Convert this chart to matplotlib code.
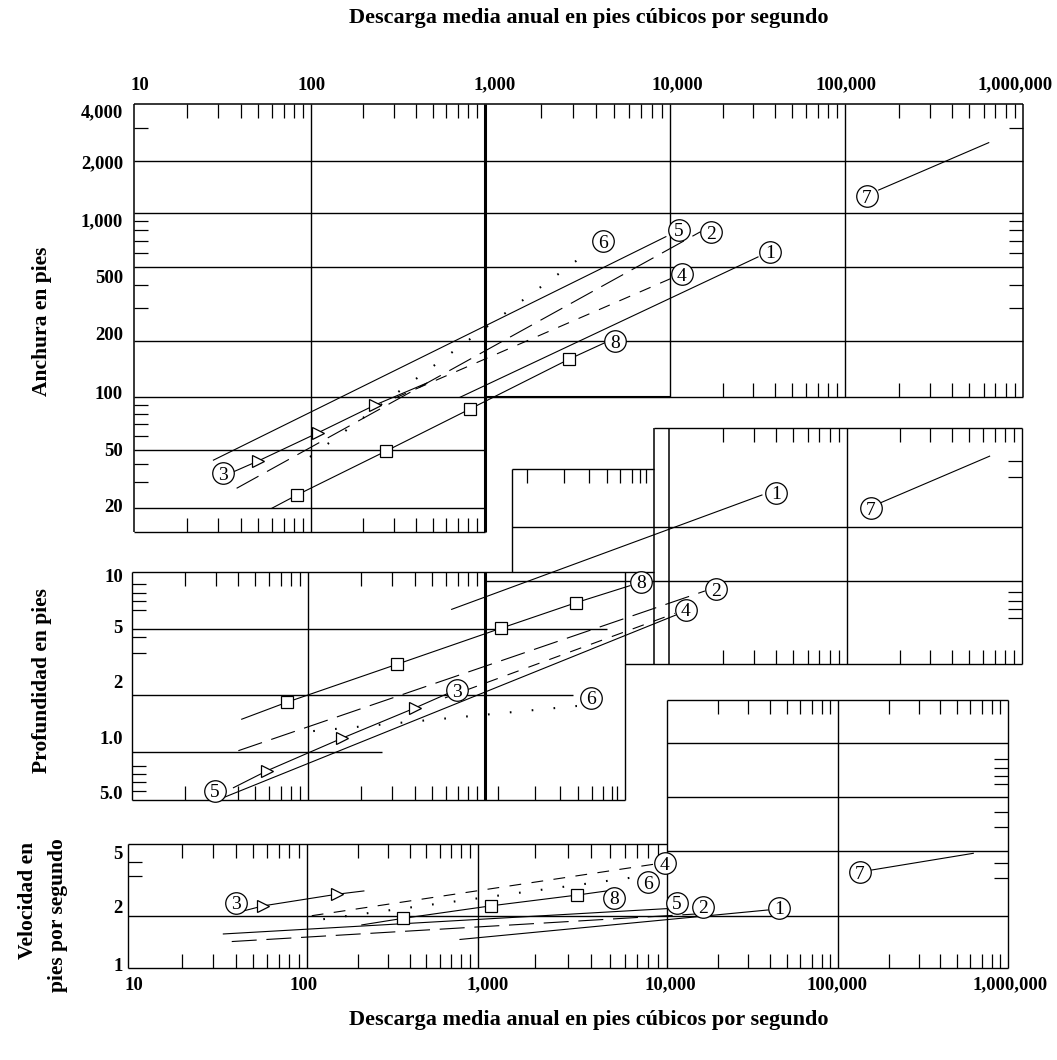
import numpy as np
import matplotlib
matplotlib.use("Agg")
import matplotlib.pyplot as plt

plt.rcParams["lines.scale_dashes"] = False
plt.rcParams["font.family"] = ["Liberation Serif", "DejaVu Serif"]

# ---------------- data ----------------
# Width (ft) vs mean annual discharge Q (cfs)
W1_Q = [718, 31840];                      W1_V = [99.6, 569]
W2_Q = [38, 14970];                       W2_V = [27.3, 787]
W3_Q = [36.2, 50.2, 110, 233, 464];       W3_V = [35.3, 42, 62.7, 90, 119]
W4_Q = [304, 10260];                      W4_V = [98.7, 436]
W5_Q = [28.1, 9500];                      W5_V = [42.6, 738]
W6_Q = [98.7, 3740];                      W6_V = [44.8, 622]
W7_Q = [154500, 642000];                  W7_V = [1358, 2500]
W8_Q = [60, 83, 270, 820, 2857, 4457];    W8_V = [19.9, 24.5, 49.2, 85.5, 160, 196]
W_LAB_Q = [37250, 17060, 31.7, 11710, 11190, 4345, 133000, 5020]
W_LAB_V = [607, 783, 34.6, 458, 804, 698, 1254, 200]

# Depth (ft)
D1_Q = [648, 33270];                      D1_V = [6.35, 25.5]
D2_Q = [40.2, 15920];                     D2_V = [1.016, 7.94]
D3_Q = [37.7, 58.7, 155, 403, 621];       D3_V = [0.597, 0.764, 1.18, 1.71, 2.05]
D4_Q = [594, 10810];                      D4_V = [1.93, 6.05]
D5_Q = [33, 10950];                       D5_V = [0.517, 5.93]
D6_Q = [107, 3160];                       D6_V = [1.29, 1.75]
D7_Q = [155400, 653000];                  D7_V = [23.2, 40.9]
D8_Q = [42, 75.7, 317, 1217, 3130, 6140]; D8_V = [1.49, 1.83, 3.06, 5.04, 6.89, 8.47]
D_LAB_Q = [40100, 18370, 692, 12410, 29.6, 3745, 137000, 7020]
D_LAB_V = [26.2, 8.13, 2.14, 6.30, 0.572, 1.94, 21.7, 8.89]

# Velocity (ft/s)
V1_Q = [788, 39130];                      V1_V = [1.46, 2.17]
V2_Q = [38, 15000];                       V2_V = [1.42, 2.05]
V3_Q = [44.2, 57.2, 150, 216];            V3_V = [2.14, 2.30, 2.71, 2.84]
V4_Q = [107, 8510];                       V4_V = [2.0, 4.14]
V5_Q = [34.1, 10000];                     V5_V = [1.57, 2.21]
V6_Q = [125, 6670];                       V6_V = [1.91, 3.44]
V7_Q = [157300, 624600];                  V7_V = [3.82, 4.84]
V8_Q = [210, 364, 1176, 3370, 4820];      V8_V = [1.77, 1.93, 2.30, 2.68, 2.84]
V_LAB_Q = [45200, 16250, 40.2, 9810, 11510, 8010, 134300, 5290]
V_LAB_V = [2.24, 2.27, 2.41, 4.2, 2.41, 3.21, 3.70, 2.58]

X_TICK_LABELS = ["10", "100", "1,000", "10,000", "100,000", "1,000,000"]
X_TICK_VALUES = [10, 100, 1000, 10000, 100000, 1000000]
W_TICK_LABELS = ["4,000", "2,000", "1,000", "500", "200", "100", "50", "20"]
W_TICK_VALUES = [4000, 2000, 1000, 500, 200, 100, 50, 20]
D_TICK_LABELS = ["10", "5", "2", "1.0", "5.0"]
D_TICK_VALUES = [10, 5, 2, 1, 0.5]
V_TICK_LABELS = ["5", "2", "1"]
V_TICK_VALUES = [5, 2, 1]

TITLE = "Descarga media anual en pies cúbicos por segundo"

# ---------------- calibration of the hand-drawn log scales ----------------
FW, FH = 1057, 1060
W_XPX = [134, 311, 485, 670, 845, 1023]
D_XPX = [132, 308, 485, 669, 847, 1022]
V_XPX = [128.3, 306.7, 477.7, 666.5, 838.3, 1008]
W_YVAL = [20, 50, 100, 200, 500, 1000, 2000, 4000]
W_YPX = [508, 450, 397, 341, 267, 213, 161, 104]
D_YVAL = [0.5, 1, 2, 5, 10]
D_YPX = [800, 752, 695, 629, 572]
V_YVAL = [1, 2, 5, 10, 20, 40]
V_YPX = [968, 915.7, 851, 797, 743, 700]


def pl(x, xs, ys):
    x = np.asarray(x, float)
    xs = np.asarray(xs, float)
    ys = np.asarray(ys, float)
    y = np.interp(x, xs, ys)
    lo = (ys[1] - ys[0]) / (xs[1] - xs[0])
    hi = (ys[-1] - ys[-2]) / (xs[-1] - xs[-2])
    y = np.where(x < xs[0], ys[0] + (x - xs[0]) * lo, y)
    y = np.where(x > xs[-1], ys[-1] + (x - xs[-1]) * hi, y)
    return y


def lg(v):
    return np.log10(np.clip(np.asarray(v, float), 1e-12, None))


class Calib:
    def __init__(self, xpx, yval, ypx):
        self.xl = np.arange(1.0, 7.0)
        self.xp = np.asarray(xpx, float)
        self.yl = np.log10(np.asarray(yval, float))
        self.yp = -np.asarray(ypx, float)

    def fx(self, v):
        return pl(lg(v), self.xl, self.xp)

    def ix(self, p):
        return 10 ** pl(p, self.xp, self.xl)

    def fy(self, v):
        return pl(lg(v), self.yl, self.yp)

    def iy(self, p):
        return 10 ** pl(p, self.yp, self.yl)


fig = plt.figure(figsize=(FW / 100, FH / 100), dpi=100)
fig.patch.set_facecolor("white")


def make_ax(cal):
    ax = fig.add_axes([0, 0, 1, 1], facecolor="none")
    ax.set_xscale("function", functions=(cal.fx, cal.ix))
    ax.set_yscale("function", functions=(cal.fy, cal.iy))
    ax.set_xlim(float(cal.ix(0.0)), float(cal.ix(float(FW))))
    ax.set_ylim(float(cal.iy(-float(FH))), float(cal.iy(0.0)))
    ax.set_axis_off()
    return ax


cw = Calib(W_XPX, W_YVAL, W_YPX)
cd = Calib(D_XPX, D_YVAL, D_YPX)
cv = Calib(V_XPX, V_YVAL, V_YPX)
aw = make_ax(cw)
ad = make_ax(cd)
av = make_ax(cv)

LW_G = 1.0
LW_T = 2.2
LW_D = 0.8
TICK = 14


def hl(ax, y, x0, x1, lw=LW_G):
    ax.plot([x0, x1], [y, y], color="k", lw=lw, solid_capstyle="butt", zorder=1)


def vl(ax, x, y0, y1, lw=LW_G):
    ax.plot([x, x], [y0, y1], color="k", lw=lw, solid_capstyle="butt", zorder=1)


def dec(decs):
    return [d * k for d in decs for k in range(2, 10)]


def xticks(ax, cal, qs, y, down=True):
    s = 1 if down else -1
    y2 = float(cal.iy(cal.fy(y) - s * TICK))
    for q in qs:
        ax.plot([q, q], [y, y2], color="k", lw=0.9, solid_capstyle="butt", zorder=1)


def yticks(ax, cal, vs, x, right=True):
    s = 1 if right else -1
    x2 = float(cal.ix(cal.fx(x) + s * TICK))
    for v in vs:
        ax.plot([x, x2], [v, v], color="k", lw=0.9, solid_capstyle="butt", zorder=1)


# ---------------- width frame ----------------
W_LOW = 13.7
hl(aw, 4000, 10, 1e6, 1.1)
for w in [2000, 1000, 500, 200, 100]:
    hl(aw, w, 10, 1e6)
hl(aw, 100, 1000, 1e4, 1.5)
for w in [50, 20, W_LOW]:
    hl(aw, w, 10, 1000)
vl(aw, 10, W_LOW, 4000, 1.1)
vl(aw, 100, W_LOW, 4000)
vl(aw, 1000, W_LOW, 4000, LW_T)
vl(aw, 1e4, 100, 4000)
vl(aw, 1e5, 100, 4000)
vl(aw, 1e6, 100, 4000, 1.1)
xticks(aw, cw, dec([10, 100, 1e3, 1e4, 1e5]), 4000, True)
xticks(aw, cw, dec([1e4, 1e5]), 100, False)
xticks(aw, cw, dec([10, 100]), W_LOW, False)
yticks(aw, cw, [3000, 900, 800, 700, 600, 400, 300, 90, 80, 70, 60, 40, 30], 10, True)
yticks(aw, cw, [3000, 900, 800, 700, 600, 400, 300], 1e6, False)

# ---------------- depth frame ----------------
Q_ML_R, Q_A_L, Q_A_R = 5770, 1400, 8280
D_A_TOP, D_A_MID, D_B_TOP, D_B_BOT, D_B_10 = 35, 17.3, 57.5, 3.08, 8.96
hl(ad, 10, 10, Q_A_R)
hl(ad, 0.5, 10, Q_ML_R)
vl(ad, 10, 0.5, 10)
vl(ad, 100, 0.5, 10)
vl(ad, 1000, 0.5, 10, LW_T)
vl(ad, Q_ML_R, 0.5, 10)
hl(ad, 5, 10, 4600)
hl(ad, 2, 10, 3010)
hl(ad, 1, 10, 262)
hl(ad, D_B_10, 1000, 1e6)
vl(ad, Q_A_L, 10, D_A_TOP)
hl(ad, D_A_TOP, Q_A_L, Q_A_R)
hl(ad, D_A_MID, Q_A_L, 1e6)
vl(ad, Q_A_R, D_B_BOT, D_B_TOP, 1.1)
vl(ad, 1e4, D_B_BOT, D_B_TOP, 1.1)
hl(ad, D_B_TOP, Q_A_R, 1e6)
vl(ad, 1e6, D_B_BOT, D_B_TOP)
hl(ad, D_B_BOT, Q_ML_R, 1e6)
vl(ad, 1e5, D_B_BOT, D_B_TOP)
xticks(ad, cd, dec([10, 100]), 10, True)
xticks(ad, cd, dec([10, 100]) + [1177, 1870, 2560, 3200, 3816, 4380, 4900, 5210], 0.5, False)
xticks(ad, cd, [1690, 2690, 3670, 4600, 5420, 6300, 6950, 7500], D_A_TOP, True)
xticks(ad, cd, dec([1e4, 1e5]), D_B_TOP, True)
xticks(ad, cd, dec([1e4, 1e5]), D_B_BOT, False)
yticks(ad, cd, [8.6, 7.7, 7.0, 6.3, 4.5, 3.6, 0.82, 0.73, 0.65, 0.57], 10, True)
yticks(ad, cd, [38.5, 31.8, 7.8, 7.0, 6.4, 5.7], 1e6, False)

# ---------------- velocity frame ----------------
V_TOP = 5.45
hl(av, V_TOP, 10, 1e4)
hl(av, 1, 10, 1e6)
hl(av, 2, 10, 1e6)
for v in [5, 10, 20, 40]:
    hl(av, v, 1e4, 1e6)
vl(av, 10, 1, V_TOP)
vl(av, 100, 1, V_TOP)
vl(av, 1000, 1, V_TOP)
vl(av, 1e4, 1, 40)
vl(av, 1e5, 1, 40)
vl(av, 1e6, 1, 40)
xticks(av, cv, dec([10, 100, 1000]), V_TOP, True)
xticks(av, cv, dec([1e4, 1e5]), 40, True)
xticks(av, cv, dec([10, 100, 1000, 1e4, 1e5]), 1, False)
yticks(av, cv, [4.3, 3.5], 10, True)
yticks(av, cv, [16.3, 14.6, 13.1, 11.8, 8.3, 6.8, 4.24, 3.4], 1e6, False)

# ---------------- data lines ----------------
LONG = (0, (18, 7))
SHORT = (0, (8.5, 7.5))
DOTS = (0, (1.2, 14.6))
STYLES = {1: "-", 2: LONG, 3: "-", 4: SHORT, 5: "-", 6: DOTS, 7: "-", 8: "-"}
MARKS = {3: ">", 8: "s"}


def draw(ax, n, q, v):
    ls = STYLES[n]
    kw = dict(color="k", lw=(1.5 if n == 6 else LW_D), linestyle=ls, zorder=3,
              dash_capstyle="butt")
    if n in MARKS:
        kw.update(marker=MARKS[n], markevery=slice(1, -1), ms=(8.5 if n == 3 else 8.5),
                  mfc="white", mec="k", mew=0.9)
    ax.plot(q, v, **kw)


def circles(ax, qs, vs):
    for i, (q, v) in enumerate(zip(qs, vs)):
        ax.plot([q], [v], "o", ms=15.5, mfc="white", mec="k", mew=0.9, zorder=5)
        ax.text(q, v, str(i + 1), ha="center", va="center_baseline", fontsize=14,
                zorder=6)


for n, (q, v) in enumerate([(W1_Q, W1_V), (W2_Q, W2_V), (W3_Q, W3_V), (W4_Q, W4_V),
                            (W5_Q, W5_V), (W6_Q, W6_V), (W7_Q, W7_V), (W8_Q, W8_V)], 1):
    draw(aw, n, q, v)
for n, (q, v) in enumerate([(D1_Q, D1_V), (D2_Q, D2_V), (D3_Q, D3_V), (D4_Q, D4_V),
                            (D5_Q, D5_V), (D6_Q, D6_V), (D7_Q, D7_V), (D8_Q, D8_V)], 1):
    draw(ad, n, q, v)
for n, (q, v) in enumerate([(V1_Q, V1_V), (V2_Q, V2_V), (V3_Q, V3_V), (V4_Q, V4_V),
                            (V5_Q, V5_V), (V6_Q, V6_V), (V7_Q, V7_V), (V8_Q, V8_V)], 1):
    draw(av, n, q, v)
circles(aw, W_LAB_Q, W_LAB_V)
circles(ad, D_LAB_Q, D_LAB_V)
circles(av, V_LAB_Q, V_LAB_V)

# ---------------- texts ----------------
BOLD = dict(fontweight="bold", color="k")
fig.text(589 / FW, 1 - 18 / FH, TITLE, ha="center", va="center", fontsize=16, **BOLD)
fig.text(589 / FW, 1 - 1020 / FH, TITLE, ha="center", va="center", fontsize=16, **BOLD)

TOP_DX = [6, 1, 10, 7, 1, -8]
BOT_DX = [6, -3, 10, 4, -1, 2]
for lab, q, dx in zip(X_TICK_LABELS, X_TICK_VALUES, TOP_DX):
    aw.annotate(lab, xy=(q, 1 - 83 / FH), xycoords=("data", "figure fraction"),
                xytext=(dx * 0.72, 0), textcoords="offset points",
                ha="center", va="center_baseline", fontsize=13.5, **BOLD)
for lab, q, dx in zip(X_TICK_LABELS, X_TICK_VALUES, BOT_DX):
    av.annotate(lab, xy=(q, 1 - 983 / FH), xycoords=("data", "figure fraction"),
                xytext=(dx * 0.72, 0), textcoords="offset points",
                ha="center", va="center_baseline", fontsize=13.5, **BOLD)

W_DY = [6.7, 0.7, 7, 9.7, -7, -4.3, 0, -2]
D_DY = [3, -2.3, -14, -14.7, -7.3]
V_DY = [1.7, -9, -3.7]
for ax, labs, vals, dys in [(aw, W_TICK_LABELS, W_TICK_VALUES, W_DY),
                            (ad, D_TICK_LABELS, D_TICK_VALUES, D_DY),
                            (av, V_TICK_LABELS, V_TICK_VALUES, V_DY)]:
    for lab, v, dy in zip(labs, vals, dys):
        ax.annotate(lab, xy=(123 / FW, v), xycoords=("figure fraction", "data"),
                    xytext=(0, -dy * 0.72), textcoords="offset points",
                    ha="right", va="center_baseline", fontsize=13.5, **BOLD)

YT = dict(rotation=90, ha="center", va="center", fontsize=15.5, color="k",
          fontweight="bold")
fig.text(42 / FW, 1 - 321 / FH, "Anchura en pies", **YT)
fig.text(42 / FW, 1 - 681 / FH, "Profundidad en pies", **YT)
fig.text(28 / FW, 1 - 900 / FH, "Velocidad en", **YT)
fig.text(58 / FW, 1 - 915 / FH, "pies por segundo", **YT)

fig.savefig("out.png", dpi=100, facecolor="white")
